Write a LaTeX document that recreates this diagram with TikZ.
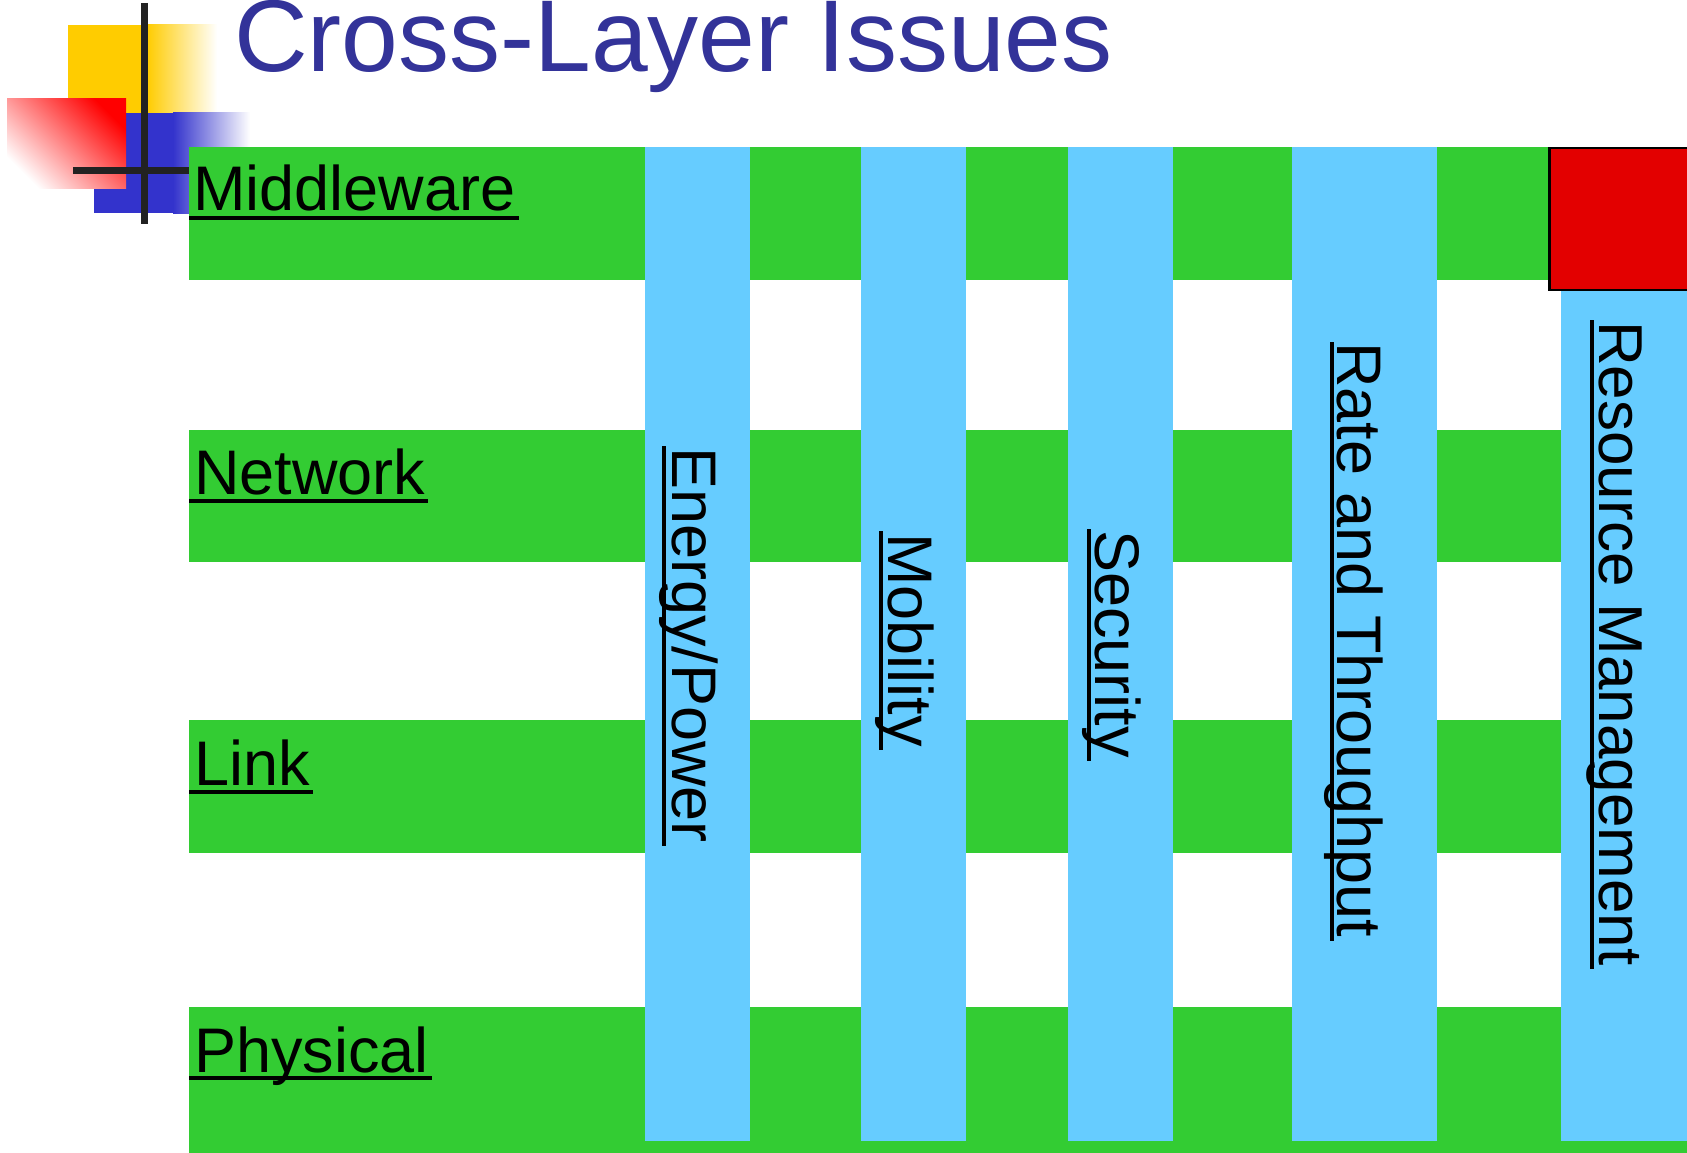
\documentclass[tikz,border=0pt]{standalone}
\usepackage{fontspec}
\setmainfont{Liberation Sans}
\definecolor{layergreen}{HTML}{33CC33}
\definecolor{issueblue}{HTML}{66CCFF}
\definecolor{titleblue}{HTML}{333399}
\definecolor{logoyellow}{HTML}{FFCC00}
\definecolor{logoblue}{HTML}{3333CC}
\definecolor{boxred}{HTML}{E30000}
\definecolor{crossgrey}{HTML}{222222}

\begin{document}
\begin{tikzpicture}[x=1pt,y=1pt]
\tikzstyle{every node}+=[inner sep=0pt]
\tikzset{
  layer/.style={anchor=base west,font=\fontsize{63}{63}\selectfont},
  issue/.style={anchor=base west,rotate=-90,font=\fontsize{63}{63}\selectfont},
  uline/.style={black,line width=4pt}
}
\useasboundingbox (0,0) rectangle (1687,-1153);
% corner logo
\fill [logoyellow] (68,-25) rectangle (147,-113);
\shade [left color=logoyellow,right color=white] (147,-25) rectangle (217,-113);
\fill [logoblue] (94,-113) rectangle (173,-213);
\shade [left color=logoblue,right color=white] (173,-113) rectangle (250,-213);
\shade [top color=red,bottom color=white,shading angle=-45] (7,-99) rectangle (126,-188);
\draw [crossgrey,line width=7pt] (144,-3) -- (144,-224);
\draw [crossgrey,line width=7pt] (73,-171) -- (189,-171);
% title
\node [anchor=base west,text=titleblue,font=\fontsize{102}{102}\selectfont] (title) at (234,-72) {Cross-Layer Issues};
% layers
\fill [layergreen] (189,-147) rectangle (1687,-280);
\fill [layergreen] (189,-430) rectangle (1687,-562);
\fill [layergreen] (189,-720) rectangle (1687,-853);
\fill [layergreen] (189,-1007) rectangle (1687,-1153);
% cross-layer columns
\fill [issueblue] (645,-147) rectangle (750,-1141);
\fill [issueblue] (861,-147) rectangle (966,-1141);
\fill [issueblue] (1068,-147) rectangle (1173,-1141);
\fill [issueblue] (1292,-147) rectangle (1437,-1141);
\fill [issueblue] (1561,-147) rectangle (1687,-1141);
\filldraw [fill=boxred,draw=black,line width=2.5pt] (1549.5,-148) rectangle (1700,-290);
% layer names
\node [layer] (mid) at (193,-210) {Middleware};
\draw [uline] ([xshift=-4pt,yshift=-8pt]mid.base west) -- ([xshift=3pt,yshift=-8pt]mid.base east);
\node [layer] (net) at (194,-494) {Network};
\draw [uline] ([xshift=-5pt,yshift=-7pt]net.base west) -- ([xshift=3pt,yshift=-7pt]net.base east);
\node [layer] (link) at (194,-785) {Link};
\draw [uline] ([xshift=-5pt,yshift=-7pt]link.base west) -- ([xshift=3pt,yshift=-7pt]link.base east);
\node [layer] (phy) at (194,-1072) {Physical};
\draw [uline] ([xshift=-5pt,yshift=-6pt]phy.base west) -- ([xshift=3pt,yshift=-6pt]phy.base east);
% issue names
\node [issue] (energy) at (672,-447) {Energy/Power};
\draw [uline] ([xshift=-8pt,yshift=1pt]energy.base west) -- ([xshift=-8pt,yshift=-3pt]energy.base east);
\node [issue] (mob) at (888,-533) {Mobility};
\draw [uline] ([xshift=-7pt,yshift=2pt]mob.base west) -- ([xshift=-7pt,yshift=-3pt]mob.base east);
\node [issue] (sec) at (1095,-530) {Security};
\draw [uline] ([xshift=-6pt,yshift=1pt]sec.base west) -- ([xshift=-6pt,yshift=-3pt]sec.base east);
\node [issue] (rate) at (1337,-342) {Rate and Throughput};
\draw [uline] ([xshift=-5pt,yshift=0pt]rate.base west) -- ([xshift=-5pt,yshift=-3pt]rate.base east);
\node [issue,font=\fontsize{62}{62}\selectfont] (res) at (1599,-321) {Resource Management};
\draw [uline] ([xshift=-7pt,yshift=1pt]res.base west) -- ([xshift=-7pt,yshift=-3pt]res.base east);
\end{tikzpicture}
\end{document}
